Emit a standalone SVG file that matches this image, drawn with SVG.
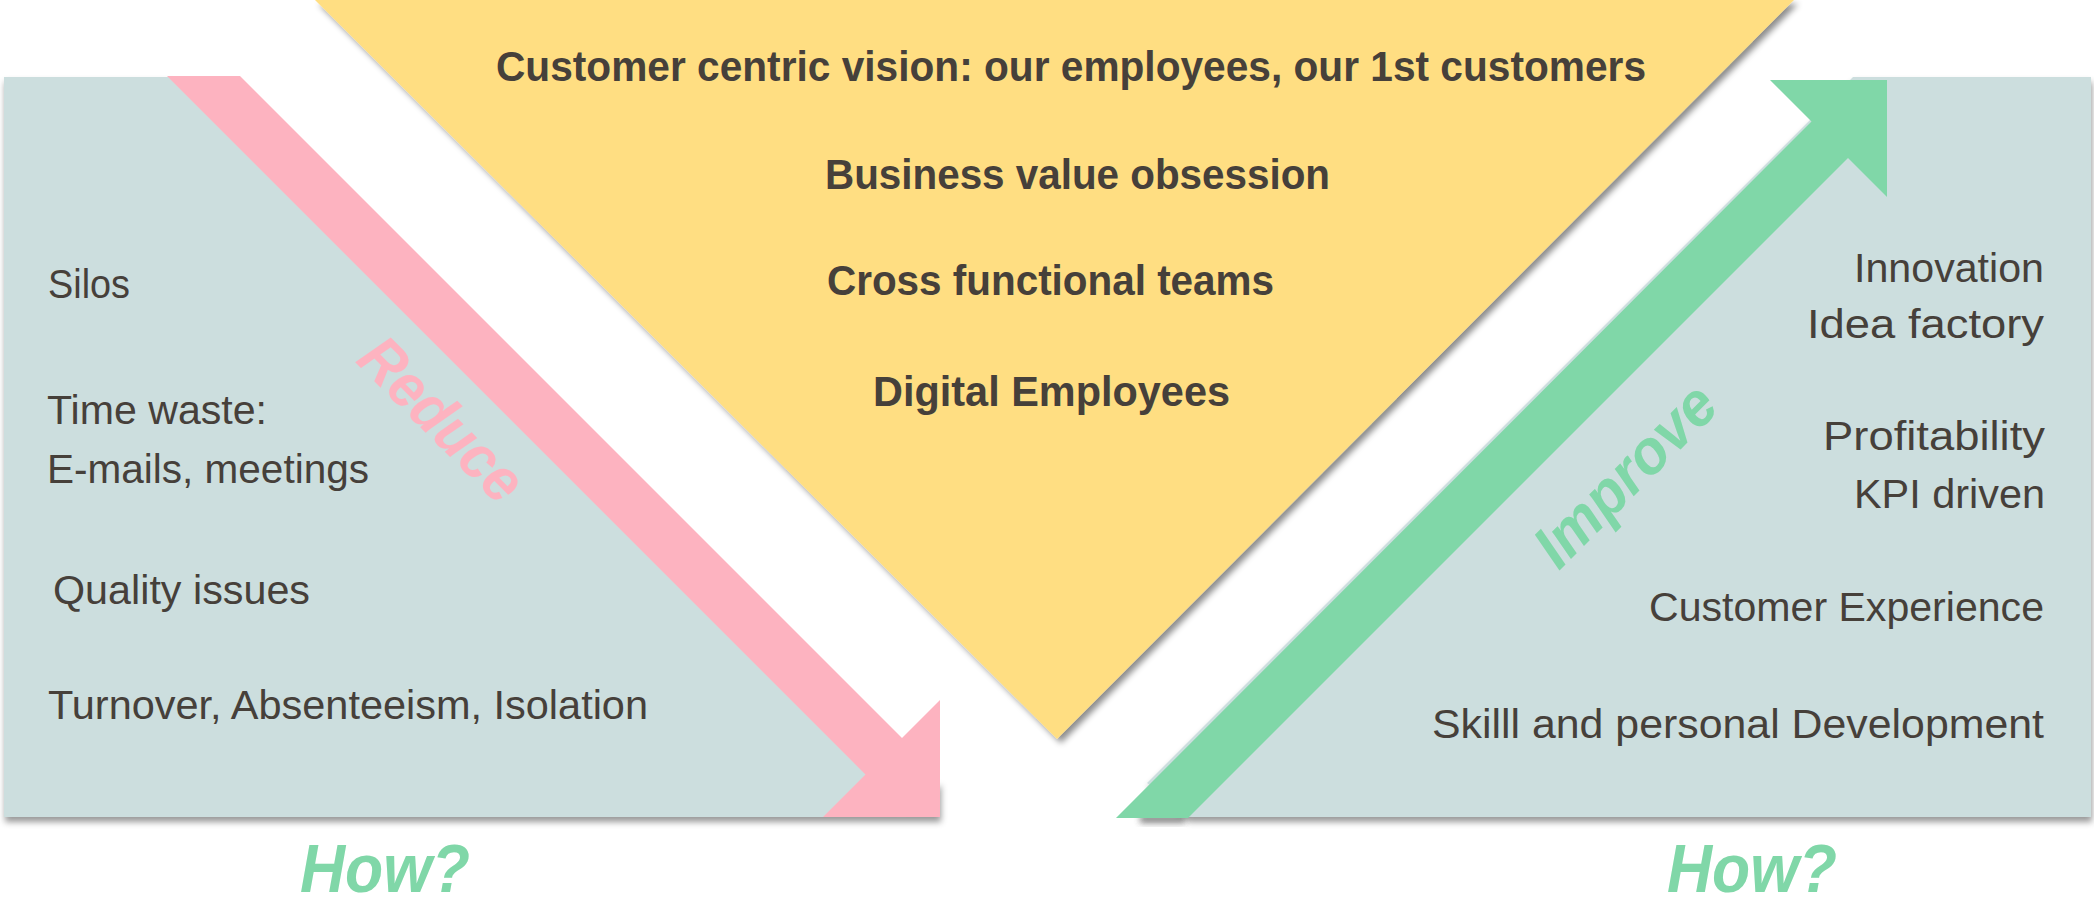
<svg xmlns="http://www.w3.org/2000/svg" width="2094" height="903" viewBox="0 0 2094 903">
  <defs>
    <filter id="panelShadow" x="-5%" y="-5%" width="110%" height="115%">
      <feDropShadow dx="1" dy="5" stdDeviation="3" flood-color="#000" flood-opacity="0.4"/>
    </filter>
    <filter id="triShadow" x="-5%" y="-5%" width="110%" height="110%">
      <feDropShadow dx="4" dy="4" stdDeviation="3" flood-color="#000" flood-opacity="0.45"/>
    </filter>
    <filter id="blur4" x="-50%" y="-50%" width="200%" height="200%">
      <feGaussianBlur stdDeviation="3"/>
    </filter>
    <style>
      .panel { fill: #CCDEDE; }
      .tri { fill: #FFDE82; }
      .pink { fill: #FDB3C0; }
      .green { fill: #80D7A8; }
      .head { font-family: "Liberation Sans", Arial, sans-serif; font-weight: bold; font-size: 42px; fill: #46403A; }
      .item { font-family: "Liberation Sans", Arial, sans-serif; font-size: 41px; fill: #46403A; }
      .tag { font-family: "Liberation Sans", Arial, sans-serif; font-weight: bold; font-style: italic; }
      .how { font-family: "Liberation Sans", Arial, sans-serif; font-weight: bold; font-style: italic; font-size: 68px; fill: #80D7A8; }
    </style>
  </defs>
  <rect width="2094" height="903" fill="#FFFFFF"/>

  <g id="center-triangle">
    <polygon class="tri" filter="url(#triShadow)" points="315,0 1794,0 1057,739"/>
    <text class="head" x="496" y="81" textLength="1150" lengthAdjust="spacingAndGlyphs">Customer centric vision: our employees, our 1st customers</text>
    <text class="head" x="825" y="189" textLength="505" lengthAdjust="spacingAndGlyphs">Business value obsession</text>
    <text class="head" x="827" y="295" textLength="447" lengthAdjust="spacingAndGlyphs">Cross functional teams</text>
    <text class="head" x="873" y="406" textLength="357" lengthAdjust="spacingAndGlyphs">Digital Employees</text>
  </g>

  <g id="left-panel">
    <polygon class="panel" filter="url(#panelShadow)" points="4,77 170,77 900,807 940,780 940,817 4,817"/>
  </g>

  <g id="right-panel">
    <polygon class="panel" filter="url(#panelShadow)" points="1147,783 1853,77 2091,77 2091,817 1188,817"/>
  </g>

  <g id="connectors">
    <polygon class="pink" points="167,76 240,76 902,738 940,700 940,817 823,817 865.5,774.5"/>
    <rect x="1140" y="815" width="45" height="8" fill="#333" opacity="0.6" filter="url(#blur4)"/>
    <polygon class="green" points="1116,818 1811.5,121.5 1770,80 1887,80 1887,197 1848,158 1188,818"/>
  </g>

  <g id="left-items">
    <text class="item" x="48" y="298" textLength="82" lengthAdjust="spacingAndGlyphs">Silos</text>
    <text class="item" x="47" y="424" textLength="220" lengthAdjust="spacingAndGlyphs">Time waste:</text>
    <text class="item" x="47" y="483" textLength="322" lengthAdjust="spacingAndGlyphs">E-mails, meetings</text>
    <text class="item" x="53" y="604" textLength="257" lengthAdjust="spacingAndGlyphs">Quality issues</text>
    <text class="item" x="48" y="719" textLength="600" lengthAdjust="spacingAndGlyphs">Turnover, Absenteeism, Isolation</text>
    <text class="tag" transform="translate(427,434) rotate(45)" text-anchor="middle" font-size="62" fill="#FDB3C0" textLength="205" lengthAdjust="spacingAndGlyphs">Reduce</text>
  </g>

  <g id="right-items">
    <text class="item" x="1854" y="282" textLength="190" lengthAdjust="spacingAndGlyphs">Innovation</text>
    <text class="item" x="1807" y="338" textLength="237" lengthAdjust="spacingAndGlyphs">Idea factory</text>
    <text class="item" x="1823" y="450" textLength="222" lengthAdjust="spacingAndGlyphs">Profitability</text>
    <text class="item" x="1854" y="508" textLength="191" lengthAdjust="spacingAndGlyphs">KPI driven</text>
    <text class="item" x="1649" y="621" textLength="395" lengthAdjust="spacingAndGlyphs">Customer Experience</text>
    <text class="item" x="1432" y="738" textLength="612" lengthAdjust="spacingAndGlyphs">Skilll and personal Development</text>
    <text class="tag" transform="translate(1640,490) rotate(-45)" text-anchor="middle" font-size="62" fill="#80D7A8" textLength="230" lengthAdjust="spacingAndGlyphs">Improve</text>
  </g>

  <g id="how-labels">
    <text class="how" x="300" y="892" textLength="170" lengthAdjust="spacingAndGlyphs">How?</text>
    <text class="how" x="1667" y="892" textLength="170" lengthAdjust="spacingAndGlyphs">How?</text>
  </g>
</svg>
